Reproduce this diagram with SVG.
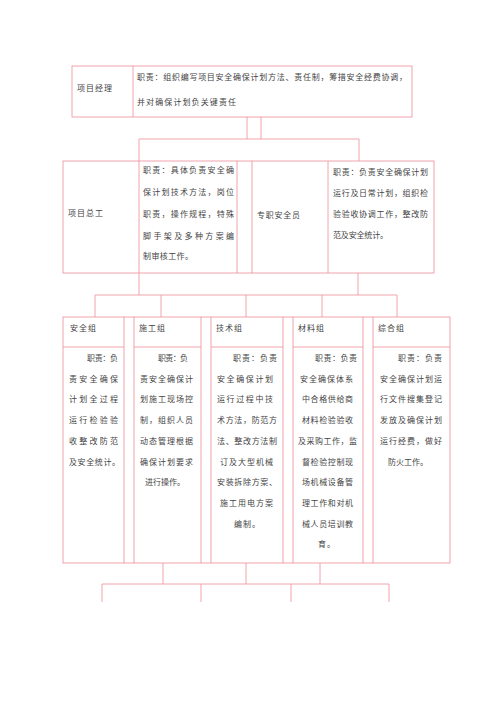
<svg xmlns="http://www.w3.org/2000/svg" width="500" height="707" viewBox="0 0 500 707">
<style>
.b{fill:none;stroke:#ee9aa2;stroke-width:0.9}
.c{fill:none;stroke:#ee9aa2;stroke-width:0.9}
text{font-family:"Noto Sans CJK SC","Noto Sans CJK JP",sans-serif;font-size:8px;fill:#444}
.h{letter-spacing:1px}
</style>
<rect width="500" height="707" fill="#fff"/>
<g id="connectors">
<path class="c" d="M247 117V139M261 117V139M139 139H359M139 139V161M359 139V161"/>
<path class="c" d="M139 273V295M358 273V295M95 295H397M95 295V317M161 295V317M246 295V317M322 295V317M397 295V317"/>
<path class="c" d="M163 563V584M246 563V584M320 563V584M102 584H389M102 584V602M201 584V602M291 584V602M389 584V602"/>
</g>
<g id="pm">
<rect class="b" x="72" y="66" width="340" height="51"/>
<path class="b" d="M133 66V117"/>
<text x="77" y="91" textLength="35" lengthAdjust="spacing">项目经理</text>
<text x="137" y="80" textLength="270" lengthAdjust="spacing">职责：组织编写项目安全确保计划方法、责任制，筹措安全经费协调，</text>
<text x="137" y="105" textLength="99" lengthAdjust="spacing">并对确保计划负关键责任</text>
</g>
<g id="row2frame">
<path class="b" d="M237 161H252M237 273H252"/>
</g>
<g id="chief">
<rect class="b" x="63" y="161" width="174" height="112"/>
<path class="b" d="M139 161V273"/>
<text x="68" y="216" textLength="35" lengthAdjust="spacing">项目总工</text>
<text x="143" y="173" textLength="91" lengthAdjust="spacing">职责：具体负责安全确</text>
<text x="143" y="195" textLength="91" lengthAdjust="spacing">保计划技术方法，岗位</text>
<text x="143" y="217" textLength="91" lengthAdjust="spacing">职责，操作规程，特殊</text>
<text x="143" y="239" textLength="91" lengthAdjust="spacing">脚手架及多种方案编</text>
<text x="143" y="259" textLength="50" lengthAdjust="spacing">制审核工作。</text>
</g>
<g id="officer">
<rect class="b" x="252" y="161" width="182" height="112"/>
<path class="b" d="M328 161V273"/>
<text x="257" y="218" textLength="43" lengthAdjust="spacing">专职安全员</text>
<text x="333" y="175" textLength="95" lengthAdjust="spacing">职责：负责安全确保计划</text>
<text x="333" y="196" textLength="95" lengthAdjust="spacing">运行及日常计划，组织检</text>
<text x="333" y="217" textLength="95" lengthAdjust="spacing">验验收协调工作，整改防</text>
<text x="333" y="238" textLength="55" lengthAdjust="spacing">范及安全统计。</text>
</g>
<g id="row3frame">
<path class="b" d="M124 317H134M124 563H134M201 317H211M201 563H211M283 317H293M283 563H293M363 317H373M363 563H373"/>
</g>
<g id="safety">
<rect class="b" x="63" y="317" width="61" height="246"/>
<path class="b" d="M63 347H124"/>
<text class="h" x="70" y="331">安全组</text>
<text x="87" y="361" textLength="31" lengthAdjust="spacing">职责：负</text>
<text x="69" y="382" textLength="49" lengthAdjust="spacing">责安全确保</text>
<text x="69" y="402" textLength="49" lengthAdjust="spacing">计划全过程</text>
<text x="69" y="423" textLength="49" lengthAdjust="spacing">运行检验验</text>
<text x="69" y="444" textLength="49" lengthAdjust="spacing">收整改防范</text>
<text x="69" y="465" textLength="51" lengthAdjust="spacing">及安全统计。</text>
</g>
<g id="construction">
<rect class="b" x="134" y="317" width="67" height="246"/>
<path class="b" d="M134 347H201"/>
<text class="h" x="139" y="331">施工组</text>
<text x="158" y="361" textLength="30" lengthAdjust="spacing">职责：负</text>
<text x="140" y="382" textLength="53" lengthAdjust="spacing">责安全确保计</text>
<text x="140" y="402" textLength="53" lengthAdjust="spacing">划施工现场控</text>
<text x="140" y="423" textLength="53" lengthAdjust="spacing">制，组织人员</text>
<text x="140" y="444" textLength="53" lengthAdjust="spacing">动态管理根据</text>
<text x="140" y="465" textLength="53" lengthAdjust="spacing">确保计划要求</text>
<text x="145" y="485" textLength="40" lengthAdjust="spacing">进行操作。</text>
</g>
<g id="technical">
<rect class="b" x="211" y="317" width="72" height="246"/>
<path class="b" d="M211 347H283"/>
<text class="h" x="216" y="331">技术组</text>
<text x="233" y="361" textLength="44" lengthAdjust="spacing">职责：负责</text>
<text x="217" y="382" textLength="56" lengthAdjust="spacing">安全确保计划</text>
<text x="217" y="402" textLength="56" lengthAdjust="spacing">运行过程中技</text>
<text x="217" y="423" textLength="60" lengthAdjust="spacing">术方法，防范方</text>
<text x="217" y="444" textLength="60" lengthAdjust="spacing">法、整改方法制</text>
<text x="220" y="465" textLength="53" lengthAdjust="spacing">订及大型机械</text>
<text x="217" y="485" textLength="60" lengthAdjust="spacing">安装拆除方案、</text>
<text x="220" y="506" textLength="53" lengthAdjust="spacing">施工用电方案</text>
<text class="h" x="234" y="527">编制。</text>
</g>
<g id="material">
<rect class="b" x="293" y="317" width="70" height="246"/>
<path class="b" d="M293 347H363"/>
<text class="h" x="298" y="331">材料组</text>
<text x="315" y="361" textLength="42" lengthAdjust="spacing">职责：负责</text>
<text x="300" y="382" textLength="53" lengthAdjust="spacing">安全确保体系</text>
<text x="302" y="402" textLength="51" lengthAdjust="spacing">中合格供给商</text>
<text x="302" y="423" textLength="51" lengthAdjust="spacing">材料检验验收</text>
<text x="298" y="444" textLength="59" lengthAdjust="spacing">及采购工作，监</text>
<text x="302" y="465" textLength="51" lengthAdjust="spacing">督检验控制现</text>
<text x="302" y="485" textLength="51" lengthAdjust="spacing">场机械设备管</text>
<text x="302" y="506" textLength="51" lengthAdjust="spacing">理工作和对机</text>
<text x="302" y="527" textLength="51" lengthAdjust="spacing">械人员培训教</text>
<text class="h" x="318" y="547">育。</text>
</g>
<g id="general">
<rect class="b" x="373" y="317" width="77" height="246"/>
<path class="b" d="M373 347H450"/>
<text class="h" x="378" y="331">综合组</text>
<text x="398" y="361" textLength="44" lengthAdjust="spacing">职责：负责</text>
<text x="380" y="382" textLength="62" lengthAdjust="spacing">安全确保计划运</text>
<text x="380" y="402" textLength="62" lengthAdjust="spacing">行文件搜集登记</text>
<text x="380" y="423" textLength="62" lengthAdjust="spacing">发放及确保计划</text>
<text x="380" y="444" textLength="62" lengthAdjust="spacing">运行经费，做好</text>
<text x="388" y="465" textLength="40" lengthAdjust="spacing">防火工作。</text>
</g>
</svg>
